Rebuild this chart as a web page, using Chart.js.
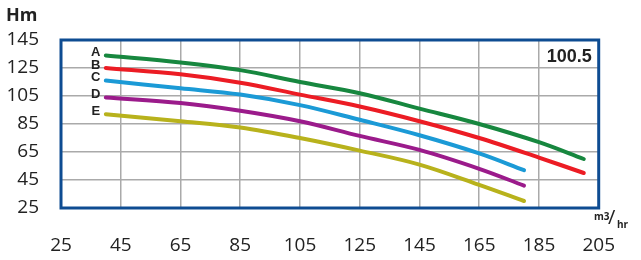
<!DOCTYPE html>
<html>
<head>
<meta charset="utf-8">
<script src="https://cdn.jsdelivr.net/npm/chart.js@4"></script>
<style>
  html, body { margin: 0; padding: 0; background: #fff; }
  #wrap { width: 641px; height: 260px; }
</style>
</head>
<body>
<div id="wrap"><canvas id="pumpChart" width="641" height="260"></canvas></div>
<script>
// Curve data (flow m3/hr vs head Hm)
const curveNames = ['A', 'B', 'C', 'D', 'E'];
const flowLong = [40, 65, 85, 105, 125, 145, 165, 185, 200];
const flowShort = [40, 65, 85, 105, 125, 145, 165, 180];
const headA = [134, 129, 123.5, 115, 107, 96, 85, 72, 60];
const headB = [125, 120.5, 114.5, 106, 97.5, 87, 75, 61, 50];
const headC = [116, 110.5, 106, 98.5, 88, 77, 64, 52];
const headD = [104, 100, 94.5, 87, 76.5, 66.5, 53, 41];
const headE = [92, 87, 82.5, 75, 66, 56, 41.5, 30];
const xTicks = [25, 45, 65, 85, 105, 125, 145, 165, 185, 205];
const yTicks = [25, 45, 65, 85, 105, 125, 145];
const modelLabel = '100.5';

const colors = ['#17873f', '#ec1c24', '#1b9ad6', '#9b1b8b', '#b8b21c'];
const curves = [
    [flowLong, headA], [flowLong, headB],
    [flowShort, headC], [flowShort, headD], [flowShort, headE]
];

const datasets = curves.map((c, i) => ({
    label: curveNames[i],
    data: c[0].map((x, j) => ({ x: x, y: c[1][j] })),
    borderColor: colors[i],
    borderWidth: 4,
    borderCapStyle: 'round',
    pointRadius: 0,
    tension: 0.35,
    fill: false
}));

// Frame, curve letters and the extra texts
const decor = {
    id: 'decor',
    afterDatasetsDraw(chart) {
        const ctx = chart.ctx;
        const a = chart.chartArea;
        const xs = chart.scales.x, ys = chart.scales.y;
        ctx.save();
        ctx.strokeStyle = '#0e4c92';
        ctx.lineWidth = 3;
        ctx.strokeRect(a.left, a.top, a.right - a.left, a.bottom - a.top);

        ctx.fillStyle = '#222';
        ctx.textAlign = 'center';
        ctx.textBaseline = 'middle';
        ctx.font = 'bold 13px "Liberation Sans", Arial, sans-serif';
        chart.data.datasets.forEach(ds => {
            const p = ds.data[0];
            ctx.fillText(ds.label, xs.getPixelForValue(p.x) - 10, ys.getPixelForValue(p.y) - 3);
        });

        ctx.textAlign = 'right';
        ctx.font = 'bold 18px "Liberation Sans", Arial, sans-serif';
        ctx.fillText(modelLabel, a.right - 7, a.top + 17);

        ctx.textAlign = 'left';
        ctx.font = 'bold 18px "Open Sans", sans-serif';
        ctx.fillText('Hm', 6, 16);

        ctx.font = 'bold 10px "Open Sans", sans-serif';
        ctx.fillText('m3', 594, 217);
        ctx.font = '20px "Open Sans", sans-serif';
        ctx.fillText('/', 608, 218);
        ctx.font = 'bold 10px "Open Sans", sans-serif';
        ctx.fillText('hr', 617, 225);
        ctx.restore();
    }
};

const tickFont = { family: '"Open Sans", sans-serif', size: 19 };

new Chart(document.getElementById('pumpChart').getContext('2d'), {
    type: 'line',
    data: { datasets: datasets },
    options: {
        responsive: false,
        animation: false,
        layout: { padding: { top: 40, right: 24, left: 0, bottom: 0 } },
        plugins: { legend: { display: false }, tooltip: { enabled: false } },
        scales: {
            x: {
                type: 'linear',
                min: xTicks[0],
                max: xTicks[xTicks.length - 1],
                afterBuildTicks: s => { s.ticks = xTicks.map(v => ({ value: v })); },
                afterFit: s => { s.height = 52; },
                grid: { color: '#aaaaaa', lineWidth: 1.5, drawTicks: false },
                border: { display: false },
                ticks: { font: tickFont, color: '#222', padding: 26, maxRotation: 0 }
            },
            y: {
                min: yTicks[0],
                max: yTicks[yTicks.length - 1],
                afterBuildTicks: s => { s.ticks = yTicks.map(v => ({ value: v })); },
                afterFit: s => { s.width = 61; },
                grid: { color: '#aaaaaa', lineWidth: 1.5, drawTicks: false },
                border: { display: false },
                ticks: { font: tickFont, color: '#222', padding: 22 }
            }
        }
    },
    plugins: [decor]
});
</script>
</body>
</html>
